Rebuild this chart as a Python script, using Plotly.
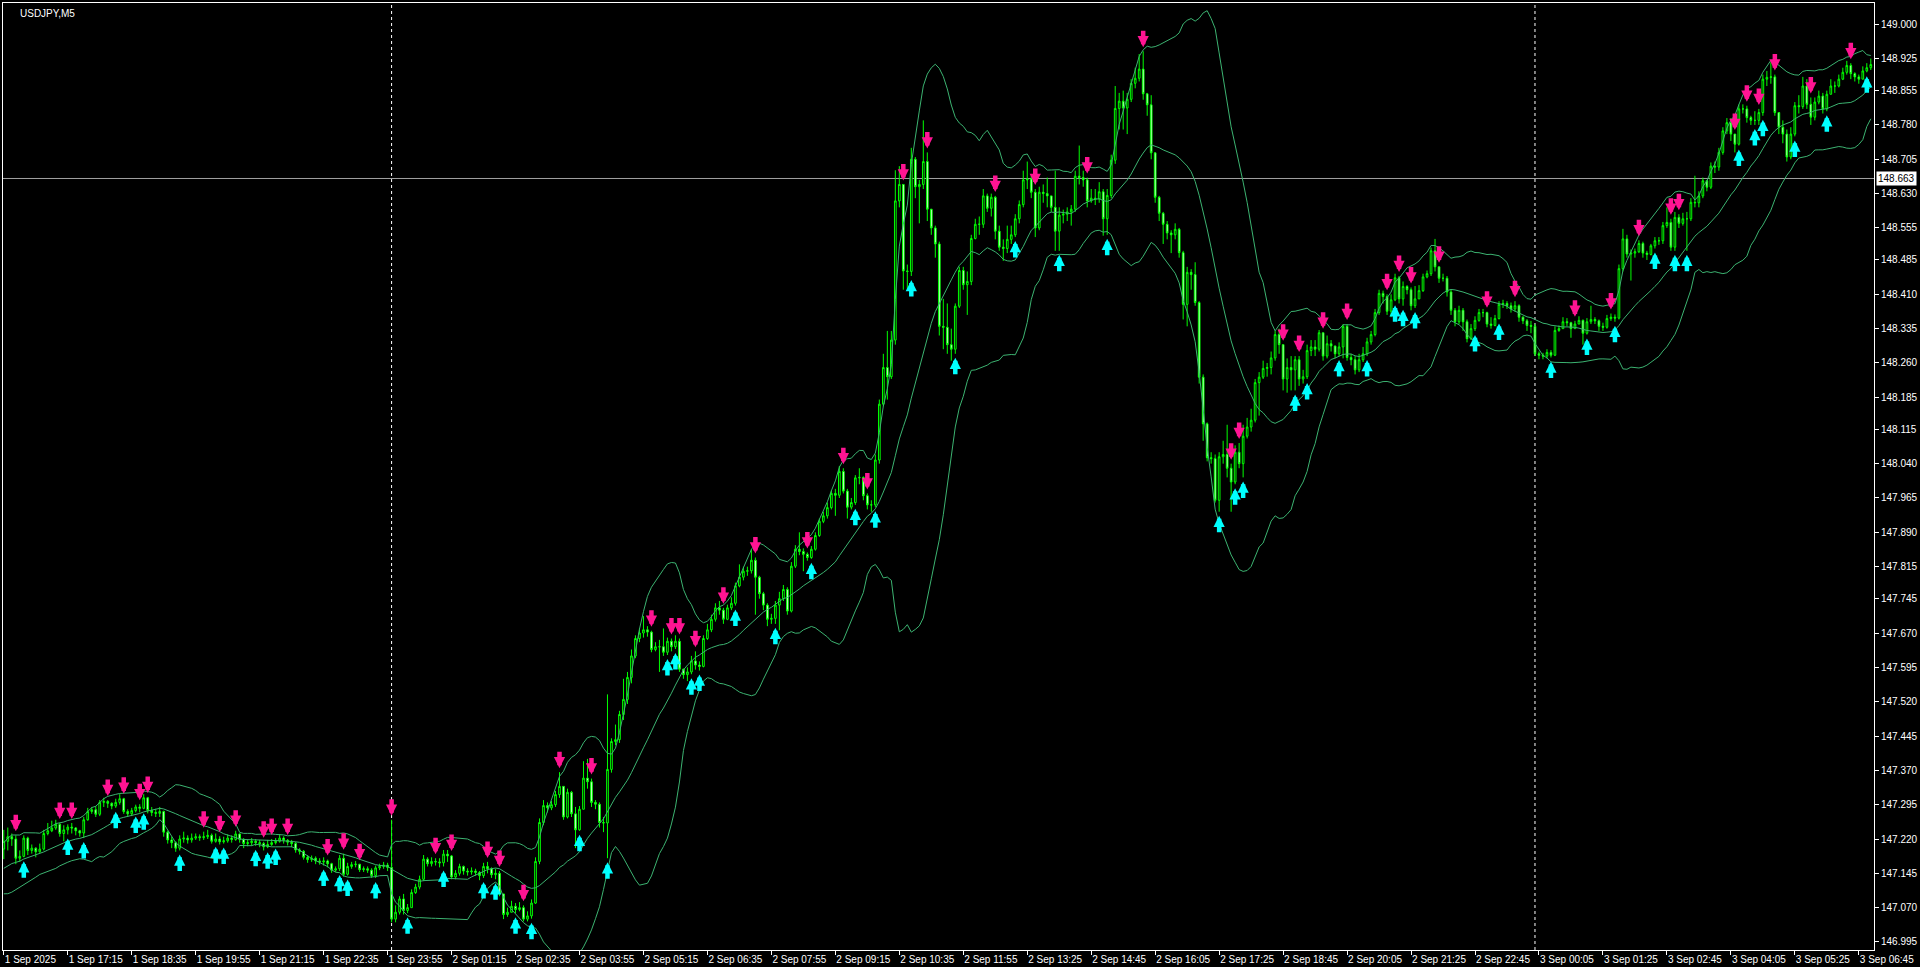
import numpy as np
import pandas as pd
import plotly.graph_objects as go

# ---------------- data (prices in 0.001 units above 147.000) ----------------
BASE = 147.0
first_open_pts = 198
pre_close_pts = [120, 118, 125, 130, 128, 135, 140, 138, 145, 150, 155, 160, 158, 165, 172, 180, 185, 195, 205]

close_pts = [
    215, 225, 220, 178, 182, 222, 195, 200, 192, 198,
    232, 238, 244, 252, 232, 240, 246, 244, 238, 233,
    262, 280, 284, 274, 300, 302, 298, 292, 300, 308,
    280, 275, 282, 290, 287, 310, 282, 278, 276, 280,
    235, 218, 212, 200, 220, 222, 218, 222, 225, 223,
    225, 228, 215, 220, 214, 216, 222, 219, 231, 219,
    210, 212, 215, 212, 210, 203, 208, 212, 215, 222,
    217, 213, 210, 196, 193, 180, 175, 178, 172, 170,
    172, 166, 152, 155, 178, 143, 160, 164, 165, 153,
    155, 152, 140, 157, 160, 163, 158, 45, 60, 89,
    64, 70, 103, 115, 132, 176, 166, 171, 170, 168,
    187, 183, 137, 145, 160, 150, 148, 150, 147, 140,
    160, 155, 142, 145, 100, 55, 60, 73, 66, 70,
    45, 52, 80, 171, 256, 293, 288, 295, 317, 335,
    268, 322, 275, 240, 285, 353, 345, 300, 296, 256,
    255, 372, 433, 437, 492, 525, 573, 620, 658, 670,
    677, 672, 634, 640, 640, 628, 652, 640, 652, 591,
    579, 585, 609, 600, 597, 658, 677, 700, 725, 720,
    700, 725, 735, 773, 792, 805, 806, 829, 792, 756,
    731, 700, 702, 731, 745, 765, 718, 816, 853, 848,
    842, 835, 853, 883, 914, 926, 944, 975, 971, 1023,
    980, 945, 955, 1009, 1010, 970, 950, 950, 1048, 1170,
    1250, 1230, 1310, 1614, 1650, 1461, 1460, 1705, 1645, 1650,
    1700, 1596, 1555, 1520, 1340, 1338, 1300, 1290, 1384, 1462,
    1431, 1438, 1532, 1563, 1563, 1625, 1598, 1622, 1548, 1513,
    1510, 1530, 1540, 1575, 1606, 1660, 1662, 1633, 1555, 1633,
    1630, 1625, 1600, 1548, 1583, 1585, 1590, 1596, 1668, 1665,
    1660, 1614, 1620, 1618, 1634, 1575, 1626, 1703, 1816, 1832,
    1817, 1836, 1871, 1882, 1902, 1848, 1824, 1719, 1622, 1587,
    1563, 1544, 1540, 1552, 1501, 1388, 1458, 1453, 1392, 1229,
    1127, 1053, 1051, 960, 1055, 1060, 1030, 1000, 1065, 1040,
    1100, 1120, 1135, 1217, 1229, 1248, 1250, 1271, 1322, 1300,
    1225, 1250, 1245, 1267, 1225, 1230, 1287, 1295, 1290, 1326,
    1275, 1302, 1297, 1280, 1295, 1340, 1272, 1267, 1245, 1267,
    1280, 1306, 1322, 1370, 1412, 1405, 1373, 1398, 1446, 1400,
    1427, 1420, 1385, 1400, 1418, 1448, 1455, 1505, 1470, 1445,
    1445, 1415, 1375, 1350, 1375, 1350, 1313, 1335, 1353, 1370,
    1370, 1345, 1342, 1357, 1388, 1390, 1385, 1378, 1385, 1360,
    1352, 1342, 1340, 1280, 1277, 1275, 1283, 1277, 1331, 1335,
    1350, 1348, 1335, 1345, 1353, 1325, 1350, 1355, 1352, 1340,
    1338, 1357, 1360, 1358, 1466, 1531, 1498, 1500, 1503, 1521,
    1500, 1497, 1516, 1527, 1527, 1560, 1567, 1513, 1578, 1565,
    1575, 1575, 1611, 1610, 1625, 1658, 1644, 1690, 1688, 1720,
    1767, 1785, 1760, 1738, 1815, 1815, 1796, 1790, 1790, 1807,
    1880, 1884, 1885, 1807, 1775, 1760, 1710, 1760, 1822, 1820,
    1865, 1825, 1797, 1830, 1843, 1815, 1847, 1865, 1865, 1880,
    1895, 1910, 1892, 1885, 1880, 1898, 1905, 1912,
]

high_pts = [
    240, 245, 232, 228, 195, 228, 225, 208, 202, 210,
    240, 255, 260, 262, 255, 250, 252, 255, 246, 240,
    268, 288, 290, 292, 305, 310, 305, 300, 308, 318,
    310, 285, 288, 295, 296, 318, 312, 290, 286, 290,
    282, 238, 225, 215, 228, 236, 228, 232, 232, 230,
    236, 240, 232, 232, 226, 225, 230, 228, 238, 232,
    222, 218, 222, 220, 218, 214, 218, 220, 222, 230,
    226, 220, 218, 214, 200, 196, 185, 184, 182, 178,
    180, 175, 168, 160, 185, 188, 168, 170, 172, 165,
    160, 160, 156, 162, 166, 170, 168, 262, 75, 95,
    100, 78, 110, 122, 140, 185, 180, 180, 178, 178,
    196, 196, 185, 152, 166, 162, 156, 158, 155, 150,
    168, 170, 158, 155, 150, 100, 70, 85, 80, 82,
    75, 62, 88, 180, 265, 305, 300, 303, 325, 366,
    330, 330, 325, 290, 292, 390, 395, 352, 305, 300,
    268, 536, 440, 470, 500, 570, 585, 634, 665, 680,
    707, 685, 675, 650, 655, 680, 660, 658, 665, 658,
    592, 595, 620, 630, 608, 665, 690, 710, 735, 740,
    725, 732, 748, 780, 820, 815, 815, 853, 835, 795,
    760, 735, 712, 740, 760, 775, 770, 825, 862, 890,
    855, 846, 860, 890, 920, 935, 955, 982, 985, 1035,
    1030, 985, 965, 1015, 1030, 1012, 975, 960, 1060, 1180,
    1280, 1330, 1330, 1681, 1690, 1650, 1475, 1730, 1710, 1660,
    1790, 1720, 1575, 1560, 1525, 1400, 1390, 1335, 1390, 1470,
    1470, 1460, 1540, 1575, 1580, 1640, 1630, 1630, 1625, 1560,
    1530, 1560, 1560, 1585, 1615, 1680, 1700, 1670, 1640, 1645,
    1650, 1665, 1625, 1680, 1600, 1595, 1600, 1605, 1680, 1735,
    1680, 1665, 1640, 1640, 1655, 1640, 1640, 1715, 1865, 1850,
    1855, 1850, 1880, 1905, 1935, 1941, 1850, 1845, 1720, 1625,
    1590, 1570, 1550, 1565, 1555, 1505, 1470, 1465, 1480, 1395,
    1235, 1130, 1065, 1060, 1065, 1090, 1125, 1040, 1080, 1085,
    1125, 1140, 1160, 1225, 1240, 1265, 1260, 1285, 1330, 1335,
    1300, 1270, 1275, 1275, 1275, 1245, 1300, 1310, 1310, 1332,
    1325, 1320, 1310, 1298, 1305, 1345, 1345, 1280, 1275, 1280,
    1295, 1315, 1330, 1378, 1420, 1418, 1410, 1410, 1455, 1450,
    1438, 1430, 1425, 1428, 1430, 1455, 1462, 1512, 1531, 1470,
    1455, 1450, 1420, 1380, 1385, 1380, 1355, 1345, 1362, 1378,
    1378, 1372, 1360, 1365, 1395, 1398, 1395, 1392, 1395, 1388,
    1362, 1356, 1352, 1345, 1285, 1282, 1290, 1288, 1340, 1342,
    1360, 1358, 1350, 1352, 1362, 1355, 1358, 1385, 1360, 1355,
    1348, 1365, 1368, 1366, 1475, 1553, 1540, 1508, 1510, 1528,
    1525, 1505, 1520, 1535, 1535, 1568, 1600, 1575, 1590, 1585,
    1588, 1590, 1620, 1669, 1635, 1665, 1660, 1698, 1700, 1730,
    1775, 1795, 1795, 1750, 1825, 1825, 1822, 1800, 1810, 1815,
    1890, 1898, 1917, 1890, 1800, 1790, 1770, 1775, 1830, 1845,
    1885, 1880, 1840, 1840, 1855, 1850, 1855, 1880, 1875, 1890,
    1905, 1920, 1915, 1895, 1890, 1908, 1915, 1925,
]

low_pts = [
    176, 195, 205, 165, 170, 180, 185, 188, 180, 190,
    195, 228, 235, 240, 225, 215, 230, 232, 228, 225,
    222, 260, 275, 268, 270, 290, 288, 285, 288, 295,
    275, 268, 270, 278, 278, 285, 276, 270, 268, 268,
    225, 210, 200, 192, 195, 212, 210, 212, 218, 216,
    218, 220, 210, 212, 208, 210, 212, 212, 216, 212,
    200, 204, 205, 205, 202, 195, 200, 205, 208, 212,
    210, 206, 202, 190, 186, 175, 168, 170, 165, 164,
    162, 158, 146, 148, 150, 138, 140, 155, 158, 148,
    148, 146, 135, 135, 152, 155, 150, 38, 38, 55,
    55, 58, 70, 100, 110, 128, 160, 160, 162, 158,
    160, 170, 132, 132, 140, 142, 140, 142, 140, 130,
    135, 145, 135, 132, 95, 45, 50, 60, 58, 62,
    40, 40, 46, 78, 165, 250, 278, 283, 290, 310,
    262, 265, 268, 200, 238, 285, 330, 290, 285, 245,
    235, 178, 365, 425, 430, 480, 515, 560, 615, 650,
    660, 662, 628, 630, 585, 620, 622, 630, 635, 585,
    570, 565, 580, 590, 588, 595, 655, 672, 695, 710,
    690, 698, 720, 730, 770, 785, 795, 800, 710, 745,
    720, 685, 690, 690, 676, 740, 710, 715, 812, 840,
    805, 828, 832, 850, 880, 910, 920, 940, 926, 965,
    975, 920, 940, 950, 995, 960, 940, 935, 945, 1040,
    1165, 1180, 1225, 1300, 1600, 1420, 1420, 1450, 1620, 1565,
    1640, 1570, 1540, 1490, 1320, 1290, 1280, 1265, 1280, 1380,
    1420, 1365, 1430, 1530, 1540, 1555, 1590, 1580, 1530, 1505,
    1483, 1500, 1520, 1535, 1565, 1600, 1640, 1620, 1535, 1550,
    1610, 1600, 1590, 1505, 1505, 1565, 1570, 1560, 1590, 1650,
    1645, 1600, 1610, 1605, 1610, 1538, 1540, 1620, 1695, 1770,
    1770, 1760, 1830, 1860, 1875, 1835, 1800, 1705, 1610, 1570,
    1520, 1530, 1500, 1530, 1490, 1355, 1340, 1420, 1385, 1215,
    1090, 1045, 1040, 955, 935, 1040, 1010, 935, 995, 1030,
    1010, 1095, 1110, 1130, 1145, 1225, 1230, 1235, 1265, 1280,
    1200, 1195, 1200, 1200, 1210, 1215, 1225, 1275, 1275, 1285,
    1265, 1270, 1285, 1270, 1275, 1270, 1265, 1255, 1235, 1240,
    1262, 1275, 1300, 1318, 1365, 1390, 1365, 1360, 1395, 1390,
    1385, 1410, 1375, 1380, 1405, 1415, 1445, 1450, 1460, 1435,
    1438, 1405, 1365, 1340, 1345, 1330, 1305, 1310, 1330, 1350,
    1360, 1338, 1335, 1340, 1355, 1380, 1378, 1370, 1372, 1350,
    1345, 1330, 1325, 1275, 1268, 1268, 1270, 1272, 1275, 1328,
    1340, 1340, 1315, 1335, 1345, 1300, 1322, 1345, 1345, 1330,
    1330, 1335, 1352, 1350, 1355, 1460, 1490, 1440, 1490, 1500,
    1490, 1485, 1495, 1510, 1518, 1520, 1555, 1505, 1505, 1555,
    1560, 1505, 1570, 1600, 1600, 1620, 1635, 1640, 1675, 1680,
    1715, 1760, 1745, 1720, 1735, 1805, 1785, 1780, 1780, 1780,
    1800, 1865, 1870, 1800, 1760, 1740, 1700, 1705, 1755, 1805,
    1815, 1815, 1780, 1790, 1825, 1805, 1810, 1850, 1850, 1862,
    1878, 1890, 1880, 1875, 1870, 1880, 1895, 1900,
]

down_signal_bars = [3, 14, 17, 26, 30, 34, 36, 50, 54, 58, 65, 67, 71, 81, 85, 89, 97, 108, 112,
                    121, 124, 130, 139, 147, 162, 167, 169, 173, 180, 188, 201, 210, 216, 225, 231,
                    248, 258, 271, 285, 307, 309, 320, 324, 330, 336, 346, 349, 352, 359, 371, 378,
                    393, 402, 409, 417, 419, 433, 436, 439, 443, 452, 462]
up_signal_bars = [5, 16, 20, 28, 33, 35, 44, 53, 55, 63, 66, 68, 80, 84, 86, 93, 101, 110, 120,
                  123, 128, 132, 144, 151, 166, 168, 172, 174, 183, 193, 202, 213, 218, 227, 238,
                  253, 264, 276, 304, 308, 310, 323, 326, 334, 341, 348, 350, 353, 368, 374, 387,
                  396, 403, 413, 418, 421, 434, 438, 440, 448, 456, 466]

xtick_bars = [0, 16, 32, 48, 64, 80, 96, 112, 128, 144, 160, 176, 192, 208, 224, 240, 256, 272,
              288, 304, 320, 336, 352, 368, 384, 400, 416, 432, 448, 464]
xtick_labels = ["1 Sep 2025", "1 Sep 17:15", "1 Sep 18:35", "1 Sep 19:55", "1 Sep 21:15",
                "1 Sep 22:35", "1 Sep 23:55", "2 Sep 01:15", "2 Sep 02:35", "2 Sep 03:55",
                "2 Sep 05:15", "2 Sep 06:35", "2 Sep 07:55", "2 Sep 09:15", "2 Sep 10:35",
                "2 Sep 11:55", "2 Sep 13:25", "2 Sep 14:45", "2 Sep 16:05", "2 Sep 17:25",
                "2 Sep 18:45", "2 Sep 20:05", "2 Sep 21:25", "2 Sep 22:45", "3 Sep 00:05",
                "3 Sep 01:25", "3 Sep 02:45", "3 Sep 04:05", "3 Sep 05:25", "3 Sep 06:45"]
ytick_labels = ["149.000", "148.925", "148.855", "148.780", "148.705", "148.630", "148.555",
                "148.485", "148.410", "148.335", "148.260", "148.185", "148.115", "148.040",
                "147.965", "147.890", "147.815", "147.745", "147.670", "147.595", "147.520",
                "147.445", "147.370", "147.295", "147.220", "147.145", "147.070", "146.995"]
separator_bars = [97, 383]
level_price = 148.663
level_label = "148.663"
symbol_label = "USDJPY,M5"
bb_period = 20
bb_dev = 2.0

# ---------------- build series ----------------
close = BASE + np.array(close_pts) / 1000.0
high = BASE + np.array(high_pts) / 1000.0
low = BASE + np.array(low_pts) / 1000.0
open_ = np.concatenate([[BASE + first_open_pts / 1000.0], close[:-1]])
high = np.maximum(high, np.maximum(open_, close))
low = np.minimum(low, np.minimum(open_, close))
n = len(close)
x = np.arange(n)

allc = pd.Series(np.concatenate([BASE + np.array(pre_close_pts) / 1000.0, close]))
mid = allc.rolling(bb_period).mean().to_numpy()[len(pre_close_pts):]
sd = allc.rolling(bb_period).std(ddof=0).to_numpy()[len(pre_close_pts):]
upper = mid + bb_dev * sd
lower = mid - bb_dev * sd

BAND = "#3CB371"
fig = go.Figure()
fig.add_trace(go.Candlestick(
    x=x, open=open_, high=high, low=low, close=close,
    increasing=dict(line=dict(color="#00FF00", width=1), fillcolor="#000000"),
    decreasing=dict(line=dict(color="#00FF00", width=1), fillcolor="#FFFFFF"),
    whiskerwidth=0, hoverinfo="skip", showlegend=False))
for band in (upper, mid, lower):
    fig.add_trace(go.Scatter(x=x, y=band, mode="lines", line=dict(color=BAND, width=1),
                             hoverinfo="skip", showlegend=False))

# signal arrows (thick MT4-style arrows drawn as annotation arrows)
SELL = "#FF1493"
BUY = "#00FFFF"
annotations = []
for b in down_signal_bars:
    annotations.append(dict(x=int(b), y=float(high[b]), xref="x", yref="y", text="",
                            showarrow=True, arrowhead=2, arrowsize=0.5, arrowwidth=4.5,
                            arrowcolor=SELL, ax=0, ay=-18, yshift=4, standoff=0))
for b in up_signal_bars:
    annotations.append(dict(x=int(b), y=float(low[b]), xref="x", yref="y", text="",
                            showarrow=True, arrowhead=2, arrowsize=0.5, arrowwidth=4.5,
                            arrowcolor=BUY, ax=0, ay=18, yshift=-4, standoff=0))

shapes = []
for b in separator_bars:
    shapes.append(dict(type="line", xref="x", yref="paper", x0=b, x1=b, y0=0, y1=1,
                       line=dict(color="white", width=1, dash="3px,3px"), layer="below"))
shapes.append(dict(type="line", xref="paper", yref="y", x0=0, x1=1, y0=level_price, y1=level_price,
                   line=dict(color="#A0A0A0", width=1), layer="below"))

FONT = "Liberation Sans"
annotations += [
    dict(text=level_label, xref="paper", yref="y", x=1, y=level_price, xanchor="left",
         yanchor="middle", xshift=2, showarrow=False, bgcolor="white", borderpad=1,
         font=dict(family=FONT, size=10, color="black")),
    dict(text=symbol_label, xref="paper", yref="paper", x=0, y=1, xanchor="left", yanchor="top",
         xshift=15, yshift=-3, showarrow=False,
         font=dict(family=FONT, size=10, color="white")),
]

fig.update_layout(
    width=1920, height=967, autosize=False,
    margin=dict(l=2, r=46, t=2, b=16, pad=0),
    paper_bgcolor="#000000", plot_bgcolor="#000000",
    showlegend=False, hovermode=False, boxgap=0.4,
    shapes=shapes, annotations=annotations,
    xaxis=dict(range=[-0.2, 467.8], tickmode="array", tickvals=xtick_bars, ticktext=xtick_labels,
               ticks="outside", ticklen=4, tickcolor="white", tickwidth=1,
               showgrid=False, zeroline=False, showline=True, linecolor="white", linewidth=1,
               mirror=True, ticklabelposition="outside right",
               tickfont=dict(family=FONT, size=10, color="white"),
               rangeslider=dict(visible=False), fixedrange=True),
    yaxis=dict(side="right", range=[146.9775, 149.0464], tickmode="array",
               tickvals=[float(t) for t in ytick_labels], ticktext=ytick_labels,
               ticks="outside", ticklen=4, tickcolor="white", tickwidth=1,
               showgrid=False, zeroline=False, showline=True, linecolor="white", linewidth=1,
               mirror=True, tickfont=dict(family=FONT, size=10, color="white"), fixedrange=True),
)

fig.write_html("out.html")
